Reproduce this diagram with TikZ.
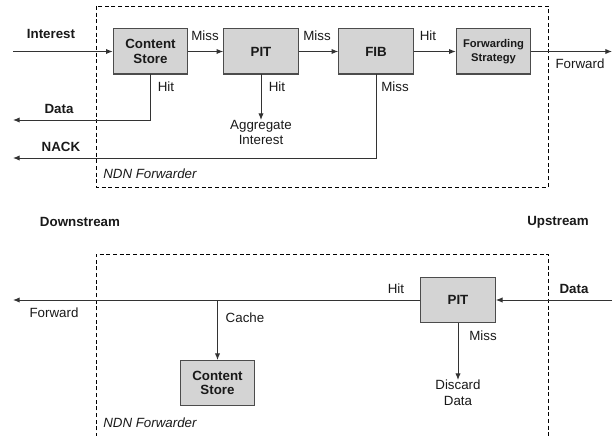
\documentclass[tikz,border=0pt]{standalone}
\usepackage{fontspec}
\setmainfont{Liberation Sans}
\usetikzlibrary{arrows.meta}
\begin{document}
\begin{tikzpicture}[x=0.75pt,y=-0.75pt,
  every node/.style={font=\fontsize{10}{11.5}\selectfont, text=black!90, inner sep=0pt},
  blk/.style={draw=black!70, fill=black!17, line width=0.75pt, minimum width=56pt, minimum height=33.75pt, font=\fontsize{10}{12}\selectfont\bfseries, align=center},
  conn/.style={line width=0.75pt, draw=black!80, -{Latex[length=5pt,width=4pt]}},
  plain/.style={line width=0.75pt, draw=black!80},
  lbl/.style={},
  blbl/.style={font=\fontsize{10}{11.5}\selectfont\bfseries},
  fwdbox/.style={dash pattern=on 3pt off 2pt, line width=0.6pt, draw=black}]
\useasboundingbox (0,0) rectangle (613,435);
% frames
\draw[fwdbox] (96,6) rectangle (548,187);
\draw[fwdbox] (96,437) -- (96,254) -- (548,254) -- (548,437);
% top boxes
\node[blk] (cs) at (150.5,51.5) {Content\\[-1pt]Store};
\node[blk] (pit) at (261,51.5) {PIT};
\node[blk] (fib) at (376,51.5) {FIB};
\node[blk, font=\fontsize{8.4}{10}\selectfont\bfseries] (fs) at (493.5,51.5) {Forwarding\\Strategy};
\coordinate (inA) at (13,51.5);
\coordinate (outA) at (612,51.5);
\coordinate (dataA) at (13,120);
\coordinate (nackA) at (13,158);
\node[align=center, anchor=north] (agg) at (261,120) {Aggregate\\Interest};
\draw[conn] (inA) -- (cs);
\draw[conn] (cs) -- (pit);
\draw[conn] (pit) -- (fib);
\draw[conn] (fib) -- (fs);
\draw[conn] (fs) -- (outA);
\draw[conn] (cs.south) |- (dataA);
\draw[conn] (pit.south) -- (agg.north);
\draw[conn] (fib.south) |- (nackA);
% top labels
\node[blbl] (tInterest) at (51,34) {Interest};
\node[lbl] (tMiss1) at (205,36) {Miss};
\node[lbl] (tMiss2) at (317,36) {Miss};
\node[lbl] (tHit1) at (428,36) {Hit};
\node[lbl] (tFwd1) at (580,64) {Forward};
\node[lbl] (tHit2) at (166,87) {Hit};
\node[lbl] (tHit3) at (277,87) {Hit};
\node[lbl] (tMiss3) at (395,87) {Miss};
\node[blbl] (tData1) at (59,109) {Data};
\node[blbl] (tNack) at (61,147) {NACK};
\node[lbl, anchor=west, font=\fontsize{10}{11.5}\selectfont\itshape] (tNDN1) at (103,174) {NDN Forwarder};
% middle
\node[blbl] (tDown) at (80,222) {Downstream};
\node[blbl] (tUp) at (558,222) {Upstream};
% bottom
\node[blk] (pitB) at (458,300) {PIT};
\node[blk] (csB) at (217.5,383) {Content\\[-1pt]Store};
\coordinate (inB) at (612,300);
\coordinate (outB) at (13,300);
\coordinate (cacheB) at (217.5,300);
\node[align=center, anchor=north] (disc) at (458,380) {Discard\\Data};
\draw[conn] (inB) -- (pitB);
\draw[conn] (pitB) -- (outB);
\draw[conn] (cacheB) -- (csB);
\draw[conn] (pitB.south) -- (disc.north);
\node[blbl] (tData2) at (574,289) {Data};
\node[lbl] (tHit4) at (396,289) {Hit};
\node[lbl] (tFwd2) at (54,313) {Forward};
\node[lbl] (tCache) at (245,318) {Cache};
\node[lbl] (tMiss4) at (483,336) {Miss};
\node[lbl, anchor=west, font=\fontsize{10}{11.5}\selectfont\itshape] (tNDN2) at (103,423) {NDN Forwarder};
\end{tikzpicture}
\end{document}
